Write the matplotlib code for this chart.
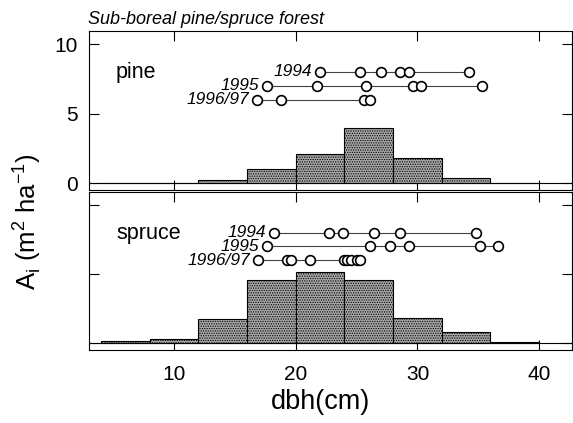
import numpy as np
import matplotlib
matplotlib.use("Agg")
from matplotlib import pyplot as plt

plt.rcParams['font.family'] = ['Liberation Sans', 'DejaVu Sans']
plt.rcParams['hatch.color'] = '#333333'
plt.rcParams['hatch.linewidth'] = 0.6

# dbh classes (cm), 4 cm wide
bin_left = [4, 8, 12, 16, 20, 24, 28, 32, 36]
bin_width = 4

pine_ai = [0, 0, 0.2, 1.0, 2.1, 3.95, 1.8, 0.35, 0]
spruce_ai = [0.15, 0.3, 1.75, 4.6, 5.15, 4.6, 1.85, 0.8, 0.1]

years = ['1994', '1995', '1996/97']
year_rows = [8, 7, 6]

pine_dbh = [
    [22.0, 25.3, 27.0, 28.6, 29.3, 34.2],
    [17.6, 21.7, 25.8, 29.6, 30.3, 35.3],
    [16.8, 18.8, 25.6, 26.1],
]
spruce_dbh = [
    [18.2, 22.7, 23.9, 26.4, 28.6, 34.8],
    [17.6, 26.1, 27.7, 29.3, 35.1, 36.6],
    [16.9, 19.3, 19.6, 21.2, 24.0, 24.2, 24.5, 25.0, 25.3],
]

fig = plt.figure(figsize=(5.73, 4.23), dpi=100)
ax1 = fig.add_axes([89/573, 1-190/423, 483/573, 159/423])
ax2 = fig.add_axes([89/573, 1-350/423, 483/573, 158/423])


def draw_panel(ax, ai, dbh, name):
    ax.bar(bin_left, ai, width=bin_width, align='edge', facecolor='#a8a8a8',
           edgecolor='black', linewidth=0.8, hatch='.......', zorder=2)
    for yr, row, xs in zip(years, year_rows, dbh):
        ax.plot([min(xs), max(xs)], [row, row], color='#444444', lw=0.8, zorder=3)
        ax.plot(xs, [row]*len(xs), 'o', ms=7, mfc='white', mec='black',
                mew=1.2, zorder=4)
        ax.annotate(yr, (min(xs), row), xytext=(-5.5, 0), textcoords='offset points',
                    ha='right', va='center', fontsize=12.5, style='italic')
    ax.axhline(0, color='black', lw=0.8, zorder=1)
    ax.text(0.056, 0.74, name, transform=ax.transAxes, fontsize=15.5, va='center')
    ax.set_xlim(3, 42.7)
    ax.set_ylim(-0.5, 10.94)
    ax.set_xticks([10, 20, 30, 40])
    ax.set_yticks([0, 5, 10])
    ax.tick_params(direction='in', top=True, right=True, length=7, width=0.8,
                   labelsize=15)
    ax.tick_params(axis='y', pad=8)
    ax.tick_params(axis='x', pad=11)
    for s in ax.spines.values():
        s.set_linewidth(0.8)


draw_panel(ax1, pine_ai, pine_dbh, 'pine')
draw_panel(ax2, spruce_ai, spruce_dbh, 'spruce')
ax1.tick_params(labelbottom=False)
ax2.tick_params(labelleft=False)

fig.text(88/573, 1-19/423, 'Sub-boreal pine/spruce forest', fontsize=13,
         style='italic', va='center', ha='left')
fig.text(321/573, 1-402/423, 'dbh(cm)', fontsize=19.5, ha='center', va='center')
fig.text(27/573, 1-222/423, r'A$_\mathregular{i}$ (m$^\mathregular{2}$ ha$^\mathregular{-1}$)',
         fontsize=18.5, rotation=90, ha='center', va='center')

fig.savefig('out.png', dpi=100)
